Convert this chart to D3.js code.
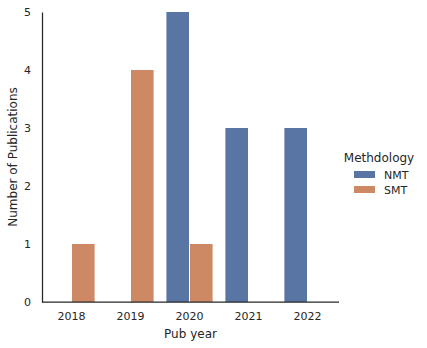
<!DOCTYPE html>
<html>
<head>
<meta charset="utf-8">
<script src="https://cdn.jsdelivr.net/npm/d3@7"></script>
<style>
  body { margin: 0; background: #fff; }
  text { font-family: "DejaVu Sans", sans-serif; fill: #262626; }
</style>
</head>
<body>
<div id="chart"></div>
<script>
const years = ["2018", "2019", "2020", "2021", "2022"];
const methods = ["NMT", "SMT"];
const nmtCounts = [0, 0, 5, 3, 3];
const smtCounts = [1, 4, 1, 0, 0];
const yTicks = [0, 1, 2, 3, 4, 5];
const colors = ["#5975a4", "#cc8963"];

const rows = years.map((y, i) => ({ year: y, NMT: nmtCounts[i], SMT: smtCounts[i] }));

const W = 427, H = 348;
const margin = { top: 12, right: 88, bottom: 46, left: 42 };
const width = 337 - margin.left;
const height = 302 - margin.top;

const svg = d3.select("#chart")
  .append("svg")
  .attr("width", W)
  .attr("height", H);

const g = svg.append("g")
  .attr("transform", `translate(${margin.left},${margin.top})`);

const x = d3.scaleBand().domain(years).range([0, width]).paddingInner(0.2).paddingOuter(0.1);
const xs = d3.scaleBand().domain(methods).range([0, x.bandwidth()]);
const y = d3.scaleLinear().domain([0, 5]).range([height, 0]);

// bars
rows.forEach(r => {
  methods.forEach((m, j) => {
    if (r[m] <= 0) return;
    g.append("rect")
      .attr("x", x(r.year) + xs(m) + 0.5)
      .attr("y", y(r[m]))
      .attr("width", xs.bandwidth() - 1)
      .attr("height", y(0) - y(r[m]))
      .attr("fill", colors[j]);
  });
});

// x axis
const xAxis = g.append("g")
  .attr("transform", `translate(0,${height})`)
  .call(d3.axisBottom(x).tickSize(0).tickPadding(10));
xAxis.select(".domain").attr("d", `M0,0H${width + 2}`).attr("stroke", "#262626").attr("stroke-width", 1.25);
xAxis.selectAll("text").style("font-size", "11px");

// y axis
const yAxis = g.append("g")
  .call(d3.axisLeft(y).tickValues(yTicks).tickFormat(d3.format("d")).tickSize(0).tickPadding(11));
yAxis.select(".domain").attr("stroke", "#262626").attr("stroke-width", 1.25);
yAxis.selectAll("text").style("font-size", "11px");

// axis labels
svg.append("text")
  .attr("x", margin.left + (width + 2) / 2)
  .attr("y", 338)
  .attr("text-anchor", "middle")
  .style("font-size", "12px")
  .text("Pub year");

svg.append("text")
  .attr("transform", `translate(17,${margin.top + height / 2}) rotate(-90)`)
  .attr("text-anchor", "middle")
  .style("font-size", "12px")
  .text("Number of Publications");

// legend
const legend = svg.append("g").attr("transform", "translate(344,0)");
legend.append("text")
  .attr("x", 35)
  .attr("y", 162)
  .attr("text-anchor", "middle")
  .style("font-size", "12px")
  .text("Methdology");

methods.forEach((m, i) => {
  legend.append("rect")
    .attr("x", 10)
    .attr("y", 171 + i * 15)
    .attr("width", 21)
    .attr("height", 7)
    .attr("fill", colors[i]);
  legend.append("text")
    .attr("x", 40)
    .attr("y", 179 + i * 15)
    .style("font-size", "11px")
    .text(m);
});
</script>
</body>
</html>
